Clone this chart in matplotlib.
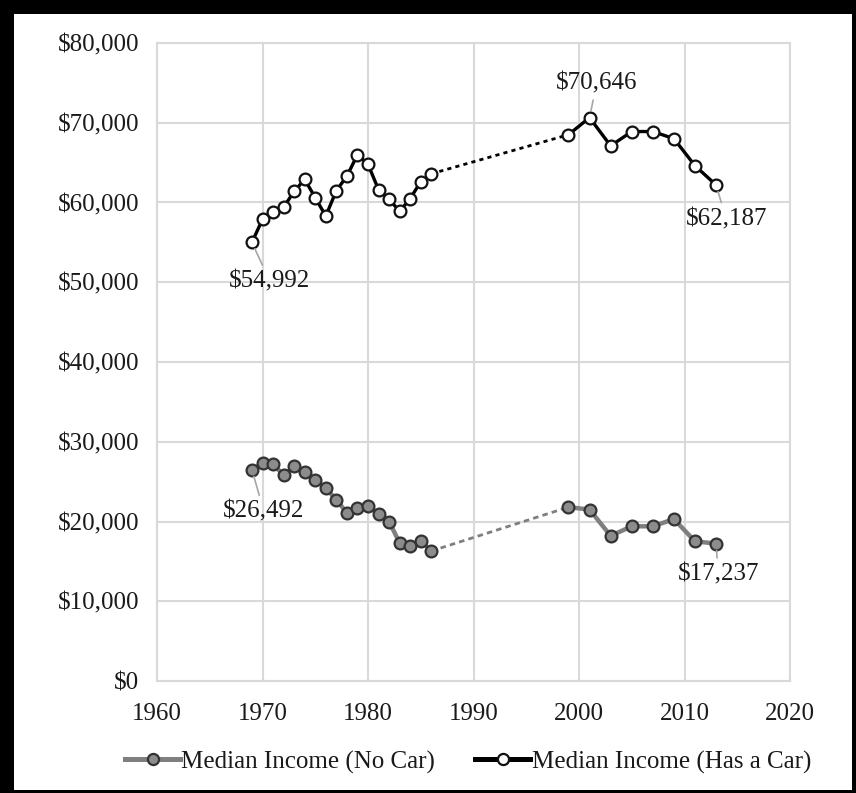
import matplotlib
matplotlib.use("Agg")
import matplotlib.pyplot as plt
from matplotlib.patches import Rectangle
from matplotlib.lines import Line2D
from matplotlib.ticker import FuncFormatter

years_a = list(range(1969, 1987))
years_b = [1999, 2001, 2003, 2005, 2007, 2009, 2011, 2013]

has_car_a = [54992, 57900, 58800, 59400, 61400, 62900, 60600, 58300, 61500, 63300,
             66000, 64800, 61600, 60400, 58900, 60500, 62600, 63600]
has_car_b = [68500, 70646, 67100, 68900, 68900, 68000, 64600, 62187]

no_car_a = [26492, 27300, 27200, 25800, 26900, 26200, 25200, 24200, 22700, 21100,
            21700, 21900, 21000, 20000, 17300, 16900, 17600, 16300]
no_car_b = [21800, 21500, 18200, 19400, 19400, 20300, 17500, 17237]

x_ticks = [1960, 1970, 1980, 1990, 2000, 2010, 2020]
y_ticks = [0, 10000, 20000, 30000, 40000, 50000, 60000, 70000, 80000]
labels = ["Median Income (No Car)", "Median Income (Has a Car)"]

plt.rcParams['font.family'] = ['Liberation Serif', 'DejaVu Serif']
txt = '#1a1a1a'
FS = 18

fig = plt.figure(figsize=(8.56, 7.93), dpi=100)
fig.patch.set_facecolor('black')
fig.add_artist(Rectangle((14/856, 3/793), (852-14)/856, (790-14)/793,
                         transform=fig.transFigure, facecolor='white',
                         edgecolor='none', zorder=0))

ax = fig.add_axes([157/856, 1-681/793, (790-157)/856, (681-43)/793])
ax.set_facecolor('white')

# No car (gray)
gray_kw = dict(color='#7f7f7f', lw=3.2, marker='o', markersize=8.5,
               markerfacecolor='#8c8c8c', markeredgecolor='#333333',
               markeredgewidth=1.6, zorder=3)
ax.plot(years_a, no_car_a, **gray_kw)
ax.plot(years_b, no_car_b, **gray_kw)
ax.plot([years_a[-1], years_b[0]], [no_car_a[-1], no_car_b[0]],
        color='#7f7f7f', lw=2, linestyle=(0, (2, 1.5)), zorder=2)

# Has car (black)
blk_kw = dict(color='black', lw=2.4, marker='o', markersize=8.5,
              markerfacecolor='white', markeredgecolor='#111111',
              markeredgewidth=1.6, zorder=3)
ax.plot(years_a, has_car_a, **blk_kw)
ax.plot(years_b, has_car_b, **blk_kw)
ax.plot([years_a[-1], years_b[0]], [has_car_a[-1], has_car_b[0]],
        color='black', lw=2, linestyle=(0, (1.5, 1.5)), zorder=2)

ax.set_xlim(1960, 2020)
ax.set_ylim(0, 80000)
ax.set_xticks(x_ticks)
ax.set_yticks(y_ticks)
ax.yaxis.set_major_formatter(FuncFormatter(lambda v, p: f"${int(v):,}"))
ax.grid(True, color='#d9d9d9', lw=1.5, zorder=0)
ax.set_axisbelow(True)
for s in ax.spines.values():
    s.set_color('#d9d9d9')
    s.set_linewidth(1.5)
ax.tick_params(length=0, labelsize=FS, colors=txt)
ax.tick_params(axis='y', pad=13)
ax.tick_params(axis='x', pad=16)

ann_kw = dict(textcoords='offset pixels', ha='center', va='center',
              fontsize=FS, color=txt,
              arrowprops=dict(arrowstyle='-', color='#a6a6a6', lw=1.2,
                              shrinkA=2, shrinkB=5))
ax.annotate(f"${has_car_a[0]:,}", (years_a[0], has_car_a[0]), xytext=(18, -39), **ann_kw)
ax.annotate(f"${has_car_b[1]:,}", (years_b[1], has_car_b[1]), xytext=(7, 34), **ann_kw)
ax.annotate(f"${has_car_b[-1]:,}", (years_b[-1], has_car_b[-1]), xytext=(10, -34), **ann_kw)
ax.annotate(f"${no_car_a[0]:,}", (years_a[0], no_car_a[0]), xytext=(12, -42), **ann_kw)
ax.annotate(f"${no_car_b[-1]:,}", (years_b[-1], no_car_b[-1]), xytext=(2, -31), **ann_kw)

handles = [
    Line2D([], [], color='#7f7f7f', lw=3.6, marker='o', markersize=8,
           markerfacecolor='#8c8c8c', markeredgecolor='#333333', markeredgewidth=1.6),
    Line2D([], [], color='black', lw=3.6, marker='o', markersize=8,
           markerfacecolor='white', markeredgecolor='#111111', markeredgewidth=1.6),
]
fig.legend(handles, labels, loc='center', bbox_to_anchor=(468/856, 1-762/793),
           ncol=2, frameon=False, fontsize=FS, handlelength=2.2,
           handletextpad=0.05, columnspacing=1.6, labelcolor=txt)

fig.savefig('out.png', dpi=100, facecolor=fig.get_facecolor())
